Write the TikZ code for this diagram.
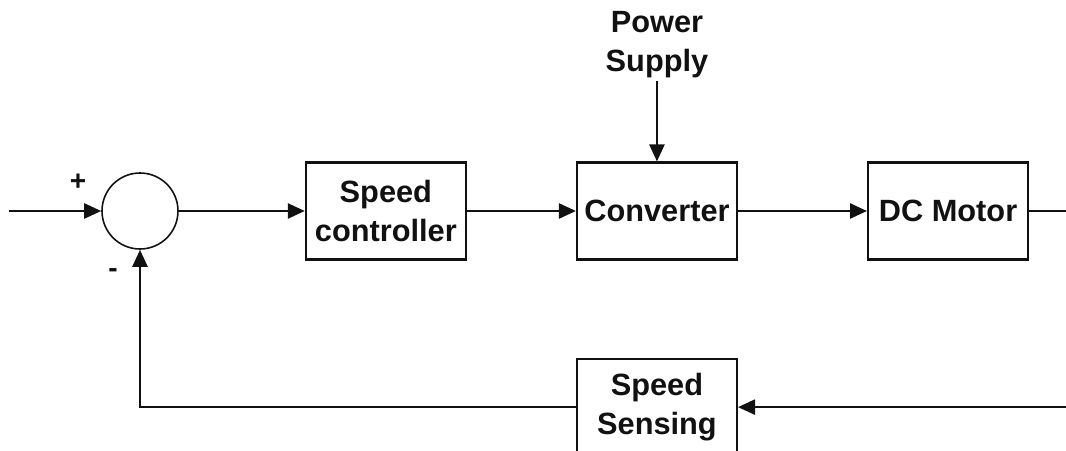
\documentclass[tikz,border=0pt]{standalone}
\usepackage{fontspec}
\setsansfont{Liberation Sans}
\usetikzlibrary{arrows.meta, positioning, calc}
\definecolor{lineink}{HTML}{111111}
\tikzset{
  blk/.style={draw=lineink, line width=1.2pt, minimum width=3.2cm, minimum height=1.94cm, align=center,
    font=\sffamily\bfseries\fontsize{17.5}{22}\selectfont, text=lineink, inner sep=2pt},
  sumc/.style={circle, draw=lineink, line width=0.9pt, minimum size=1.52cm, inner sep=0pt},
  lbl/.style={align=center, font=\sffamily\bfseries\fontsize{17.5}{22}\selectfont, text=lineink, inner sep=2pt},
  sgn/.style={font=\sffamily\bfseries\fontsize{16}{18}\selectfont, text=lineink, inner sep=0pt},
  flow/.style={-{Triangle[length=0.34cm, width=0.3cm]}, draw=lineink, line width=1.4pt},
  wire/.style={draw=lineink, line width=1.4pt}
}
\begin{document}
\begin{tikzpicture}[node distance=2.5cm]
\useasboundingbox (0,0) rectangle (21.32,9);
\node[sumc] (sum) at (2.8,4.78) {};
\node[blk, right=2.52cm of sum] (ctrl) {Speed\\controller};
\node[blk, right=2.18cm of ctrl] (conv) {Converter};
\node[blk, right=2.58cm of conv] (motor) {DC Motor};
\node[blk, below=1.94cm of conv] (sense) {Speed\\Sensing};
\node[lbl, above=1.6cm of conv] (psu) {Power\\Supply};
\coordinate[left=1.84cm of sum] (ref);
\coordinate[right=0.9cm of motor] (out);
\coordinate (fb) at (out |- sense);
\node[sgn] (plus) at ($(sum)+(-1.24,0.58)$) {+};
\node[sgn] (minus) at ($(sum)+(-0.54,-1.24)$) {-};
\draw[flow] (ref)--(sum); \draw[flow] (sum)--(ctrl); \draw[flow] (ctrl)--(conv);
\draw[flow] (conv)--(motor); \draw[wire] (motor)--(out);
\draw[flow] (psu)--(conv);
\draw[flow] (fb)--(sense); \draw[flow] (sense) -| (sum);
\end{tikzpicture}
\end{document}
